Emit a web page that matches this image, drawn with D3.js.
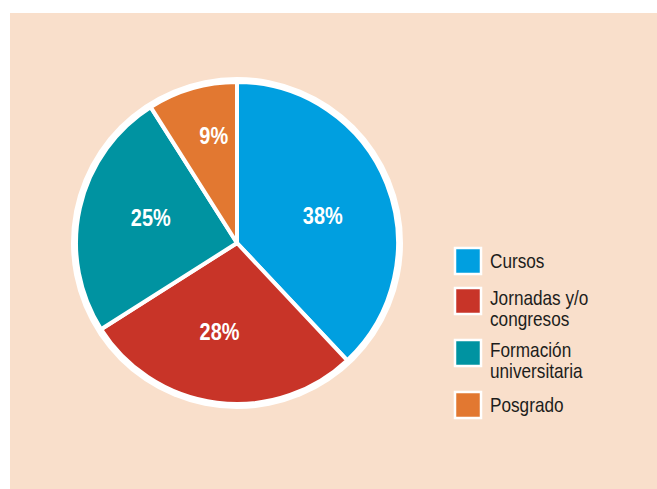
<!DOCTYPE html>
<html>
<head>
<meta charset="utf-8">
<script src="https://cdn.jsdelivr.net/npm/d3@7"></script>
<style>
  body { margin: 0; background: #ffffff; }
  svg { display: block; }
  .pct { font-family: "Liberation Sans", Arial, sans-serif; font-weight: bold; fill: #ffffff; }
  .leg { font-family: "Liberation Sans", Arial, sans-serif; fill: #1d1d1b; }
</style>
</head>
<body>
<svg id="chart" width="657" height="489"></svg>
<script>
// chart data
const categories = ['Cursos', 'Jornadas y/o congresos', 'Formación universitaria', 'Posgrado'];
const values = [38, 28, 25, 9];
const legendLines = [['Cursos'], ['Jornadas y/o', 'congresos'], ['Formación', 'universitaria'], ['Posgrado']];
const colors = ['#009fe0', '#c83428', '#0093a1', '#e27831'];

const width = 657, height = 489;
const cx = 237, cy = 243, r = 161;
const narrow = 0.83; // no condensed font installed, squeeze horizontally

const svg = d3.select('#chart');

// peach panel
svg.append('rect')
    .attr('x', 10).attr('y', 13)
    .attr('width', width - 10).attr('height', height - 13)
    .attr('fill', '#f9dfcb');

const g = svg.append('g')
    .attr('transform', 'translate(' + cx + ',' + cy + ')');

// white ring round the pie
g.append('circle').attr('r', r + 5).attr('fill', '#ffffff');

const pie = d3.pie().sort(null).value(d => d.value);
const arc = d3.arc().innerRadius(0).outerRadius(r);

const data = pie(categories.map((c, i) => ({ name: c, value: values[i] })));

g.selectAll('.slice')
    .data(data)
    .enter().append('path')
    .attr('class', 'slice')
    .attr('d', arc)
    .attr('fill', (d, i) => colors[i])
    .attr('stroke', '#ffffff')
    .attr('stroke-width', 4)
    .attr('stroke-linejoin', 'round');

// labels sit a bit clockwise of the middle, small slices further out
const shift = 4 * Math.PI / 180;
g.selectAll('.pct')
    .data(data)
    .enter().append('text')
    .attr('class', 'pct')
    .attr('transform', d => {
        const lr = (d.endAngle - d.startAngle) < 0.7 ? 110 : 90;
        const c = d3.arc().innerRadius(lr).outerRadius(lr)
            .centroid({ startAngle: d.startAngle + shift, endAngle: d.endAngle + shift });
        return 'translate(' + c[0] + ',' + c[1] + ') scale(' + narrow + ',1)';
    })
    .attr('text-anchor', 'middle')
    .attr('dy', '0.35em')
    .attr('font-size', 24)
    .text(d => d.data.value + '%');

// legend
const legend = svg.append('g').attr('transform', 'translate(454,247)');
let y = 0;
legendLines.forEach((lines, i) => {
    const row = legend.append('g').attr('transform', 'translate(0,' + y + ')');
    row.append('rect')
        .attr('x', 1).attr('y', 1)
        .attr('width', 26).attr('height', 26)
        .attr('fill', colors[i])
        .attr('stroke', '#ffffff')
        .attr('stroke-width', 2.5);
    lines.forEach((t, k) => {
        row.append('text')
            .attr('class', 'leg')
            .attr('transform', 'translate(36,' + (14 - 3 * (lines.length - 1) + k * 21) + ') scale(0.86,1)')
            .attr('dy', '0.35em')
            .attr('font-size', 20)
            .text(t);
    });
    y += 40 + 12 * (lines.length - 1);
});
</script>
</body>
</html>
